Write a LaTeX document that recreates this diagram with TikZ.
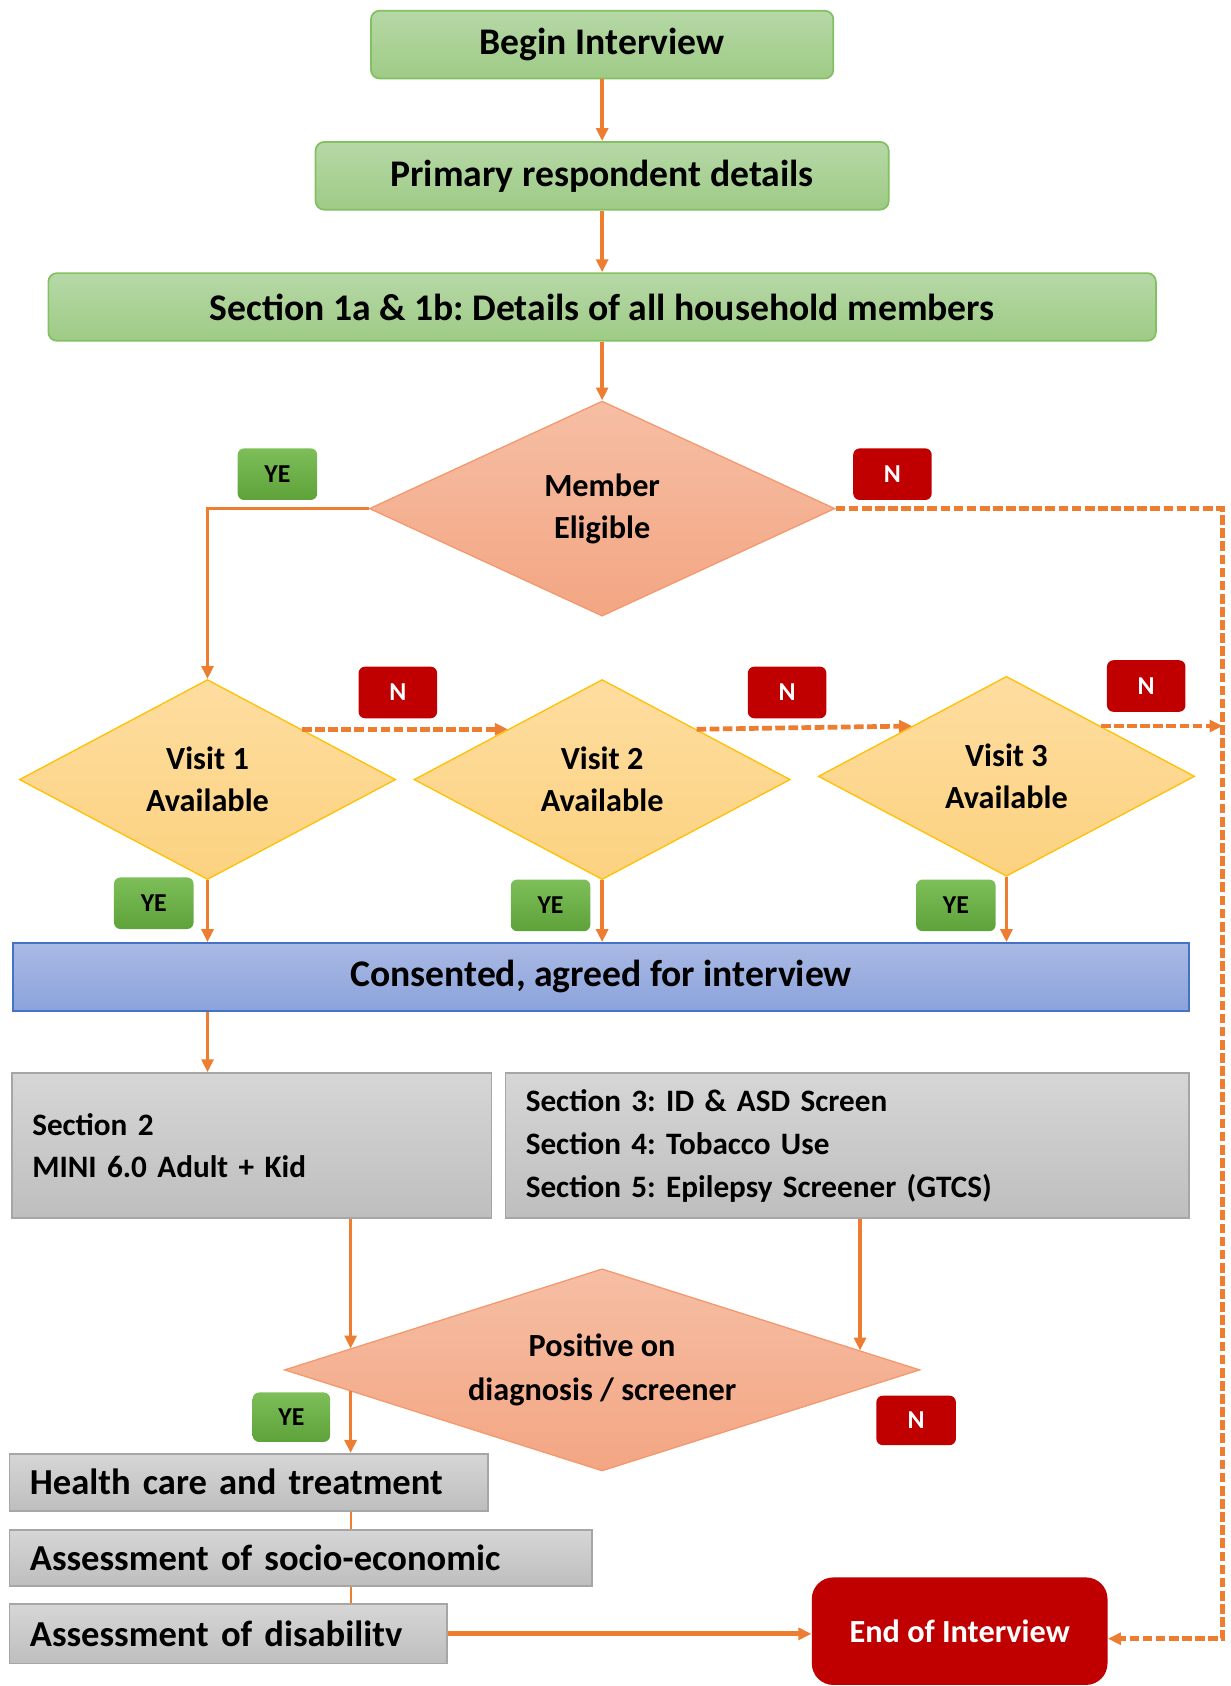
\documentclass[tikz,border=0pt]{standalone}
\usepackage{fontspec}
\setmainfont{Carlito}
\frenchspacing
\usetikzlibrary{calc,arrows.meta,shapes.geometric}
\definecolor{arrorange}{HTML}{ED7D31}
\definecolor{noRed}{HTML}{C00000}
\tikzset{font=\fontsize{15}{19.5}\selectfont\bfseries}
\tikzset{
	greenbox/.style={draw={rgb,255:red,130;green,192;blue,98}, line width=0.8pt, rounded corners=4pt,
		font=\fontsize{17.5}{17.5}\selectfont\bfseries,
		top color={rgb,255:red,182;green,216;blue,166}, bottom color={rgb,255:red,158;green,203;blue,134}},
	decision/.style={diamond, draw={rgb,255:red,244;green,152;blue,110}, line width=0.6pt, inner sep=0pt, align=center,
		top color={rgb,255:red,246;green,190;blue,164}, bottom color={rgb,255:red,243;green,166;blue,131}},
	visit/.style={diamond, draw={rgb,255:red,255;green,192;blue,0}, line width=0.6pt, inner sep=0pt, align=center, aspect=1.88,
		minimum width=175pt, minimum height=93pt,
		top color={rgb,255:red,254;green,221;blue,160}, bottom color={rgb,255:red,252;green,210;blue,128}},
	bluebox/.style={draw={rgb,255:red,68;green,114;blue,196}, line width=0.8pt,
		font=\fontsize{17.5}{17.5}\selectfont\bfseries,
		top color={rgb,255:red,170;green,185;blue,228}, bottom color={rgb,255:red,139;green,163;blue,219}},
	graybox/.style={draw={rgb,255:red,166;green,166;blue,166}, line width=0.8pt, align=left, inner xsep=9.5pt,
		top color={rgb,255:red,214;green,214;blue,214}, bottom color={rgb,255:red,190;green,190;blue,190}},
	yeslbl/.style={rounded corners=3pt, minimum width=37pt, minimum height=24pt, inner sep=0pt,
		font=\fontsize{12}{12}\selectfont\bfseries,
		top color={rgb,255:red,125;green,190;blue,88}, bottom color={rgb,255:red,94;green,162;blue,58}},
	nolbl/.style={rounded corners=3pt, fill=noRed, text=white, minimum width=36.5pt, minimum height=24pt, inner sep=0pt,
		font=\fontsize{12}{12}\selectfont\bfseries},
	arr/.style={draw=arrorange, line width=1.7pt, -{Triangle[length=6pt,width=5.5pt]}},
	dsh/.style={draw=arrorange, line width=2.2pt, dash pattern=on 4.5pt off 1.6pt, -{Triangle[length=6pt,width=5.5pt]}},
}

\begin{document}
\begin{tikzpicture}[x=0.5pt,y=-0.5pt]
	\useasboundingbox (0,0) rectangle (1144,1568);

	% top sequence
	\node[greenbox, minimum width=215pt, minimum height=31.5pt] (begin) at (560,41.5) {Begin Interview};
	\node[greenbox, minimum width=266.5pt, minimum height=31.5pt] (prim) at (560,163.5) {Primary respondent details};
	\node[greenbox, minimum width=515pt, minimum height=31.5pt] (sect1) at (560,285.5) {Section 1a \& 1b: Details of all household members};

	% eligibility and visits
	\node[decision, aspect=2.165, minimum width=216.5pt, minimum height=100pt] (memb) at (560,473) {Member\\Eligible};
	\node[yeslbl] (ye0) at (258,441) {YE};
	\node[nolbl] (no0) at (830,441) {N};

	\node[visit] (v1) at (193,725) {Visit 1\\Available};
	\node[visit] (v2) at (560,725) {Visit 2\\Available};
	\node[visit] (v3) at (936,722) {Visit 3\\Available};
	\node[nolbl] (no1) at (370,644) {N};
	\node[nolbl] (no2) at (732,644) {N};
	\node[nolbl] (no3) at (1066,638) {N};
	\node[yeslbl] (ye1) at (143,840) {YE};
	\node[yeslbl] (ye2) at (512,842) {YE};
	\node[yeslbl] (ye3) at (889,842) {YE};

	\node[bluebox, minimum width=547pt, minimum height=31.5pt] (cons) at (559,908.5) {Consented, agreed for interview};

	% sections
	\node[graybox, minimum width=223pt, text width=204pt, minimum height=67.5pt, font=\fontsize{14.5}{19.5}\selectfont\bfseries] (s2) at (234,1065.5) {Section 2\\MINI 6.0 Adult + Kid};
	\node[graybox, minimum width=318pt, text width=299pt, minimum height=67.5pt, font=\fontsize{14.5}{20}\selectfont\bfseries] (s35) at (788,1065.5)
		{Section 3: ID \& ASD Screen\\Section 4: Tobacco Use\\Section 5: Epilepsy Screener (GTCS)};

	\node[decision, aspect=3.14, minimum width=295.5pt, minimum height=94pt, font=\fontsize{15}{20}\selectfont\bfseries] (pos) at (560,1274) {Positive on\\diagnosis / screener};
	\node[yeslbl, minimum width=36pt, minimum height=23pt] (ye4) at (271,1318) {YE};
	\node[nolbl, minimum width=37pt, minimum height=23pt] (no4) at (852,1321) {N};

	% follow-up
	\node[graybox, anchor=west, minimum width=222.5pt, text width=203.5pt, minimum height=26.5pt, font=\fontsize{17}{17}\selectfont\bfseries] (hc) at (8,1378.5) {Health care and treatment};
	\node[graybox, anchor=west, minimum width=271pt, text width=252pt, minimum height=26pt, font=\fontsize{17}{17}\selectfont\bfseries] (se) at (8,1449) {Assessment of socio-economic};
	\node[graybox, anchor=west, minimum width=203.5pt, text width=184.5pt, minimum height=27.5pt, font=\fontsize{17}{17}\selectfont\bfseries] (dis) at (8,1519.5) {Assessment of disabilitv};

	\node[rounded corners=10pt, fill=noRed, text=white, minimum width=137.5pt, minimum height=50pt] (endi) at (892.5,1517) {End of Interview};

	% helper points
	\coordinate (rb) at (1137,1524);
	\coordinate (pin1) at ($(pos.west)!0.21!(pos.north)$);
	\coordinate (pin2) at ($(pos.east)!0.19!(pos.north)$);
	\coordinate (pout) at ($(pos.west)!0.21!(pos.south)$);

	% connectors
	\draw[arr] (begin) -- (prim);
	\draw[arr] (prim) -- (sect1);
	\draw[arr] (sect1) -- (memb);
	\draw[arr] (memb.west) -| (v1.north);
	\draw[dsh] (memb.east) -| (rb) -- (endi.east |- rb);
	\draw[dsh] (v1.north east) -- (v2.north west);
	\draw[dsh] (v2.north east) -- (v3.north west);
	\draw[dsh] (v3.north east) -- (v3.north east -| rb);
	\draw[arr] (v1.south) -- (v1.south |- cons.north);
	\draw[arr] (v2.south) -- (v2.south |- cons.north);
	\draw[arr] (v3.south) -- (v3.south |- cons.north);
	\draw[arr] (cons.south -| v1.south) -- (s2.north -| v1.south);
	\draw[arr] (s2.south -| pin1) -- (pin1);
	\draw[arr] (s35.south -| pin2) -- (pin2);
	\draw[arr] (pout) -- (hc.north -| pout);
	\draw[draw=arrorange, line width=1pt] (hc.south -| pout) -- (se.north -| pout);
	\draw[draw=arrorange, line width=1pt] (se.south -| pout) -- (dis.north -| pout);
	\draw[arr, line width=2.4pt] (dis.east) -- (endi.west |- dis.east);
\end{tikzpicture}
\end{document}
